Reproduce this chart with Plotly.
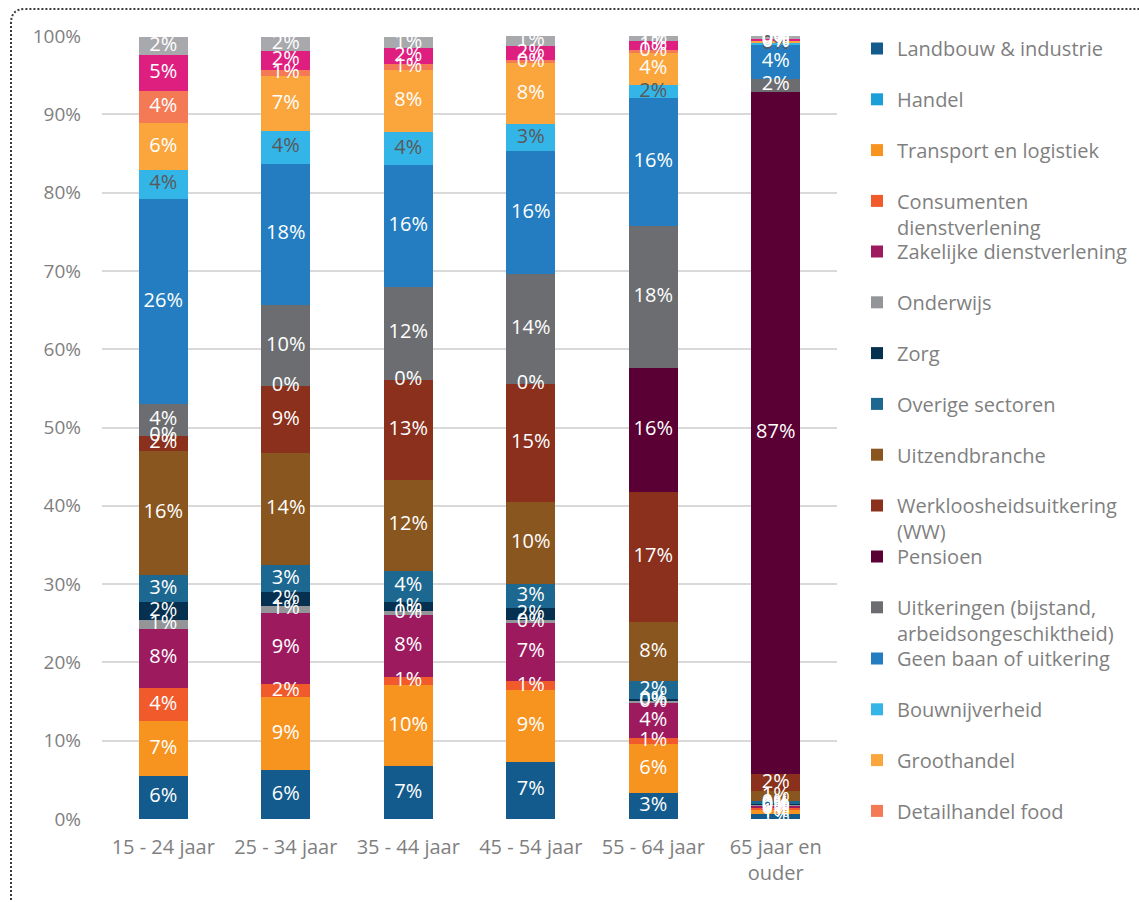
import plotly.graph_objects as go

# Age groups (x categories)
categories = ["15 - 24 jaar", "25 - 34 jaar", "35 - 44 jaar", "45 - 54 jaar",
              "55 - 64 jaar", "65 jaar en<br>ouder"]

# Share per activity / sector, in percent of each age group (stack order bottom -> top)
landbouw_industrie = [5.50, 6.25, 6.76, 7.31, 3.32, 0.60]
handel = [0, 0, 0, 0, 0, 0]
transport_logistiek = [6.98, 9.31, 10.33, 9.15, 6.25, 0.60]
consumenten_dv = [4.25, 1.66, 1.06, 1.15, 0.77, 0.20]
zakelijke_dv = [7.58, 9.15, 7.91, 7.40, 4.43, 0.30]
onderwijs = [1.15, 0.89, 0.45, 0.42, 0.33, 0.10]
zorg = [2.24, 1.73, 1.24, 1.55, 0.18, 0.10]
overige_sectoren = [3.44, 3.45, 3.95, 3.06, 2.30, 0.40]
uitzendbranche = [15.87, 14.25, 11.60, 10.42, 7.56, 1.30]
ww = [1.95, 8.55, 12.83, 15.05, 16.60, 2.10]
pensioen = [0, 0, 0, 0, 15.90, 87.15]
uitkeringen = [3.99, 10.46, 11.79, 14.12, 18.10, 1.66]
geen_baan = [26.28, 17.98, 15.60, 15.64, 16.30, 4.46]
bouwnijverheid = [3.66, 4.20, 4.20, 3.44, 1.66, 0.10]
groothandel = [5.96, 6.98, 8.00, 7.78, 4.12, 0.30]
detailhandel_food = [4.12, 0.85, 0.71, 0.47, 0.43, 0.10]
detailhandel_nonfood = [4.63, 2.42, 2.04, 1.70, 1.10, 0.20]
overig = [2.30, 1.73, 1.40, 1.28, 0.64, 0.30]

y_ticks = [0, 10, 20, 30, 40, 50, 60, 70, 80, 90, 100]
y_tick_labels = [f"{t}%" for t in y_ticks]

WHITE = "#ffffff"
DARK_LABEL = "#595959"

# name, values, colour, label colour (None = no labels), legend id (None = hidden)
series = [
    ("Landbouw & industrie", landbouw_industrie, "#135b8d", WHITE, "legend"),
    ("Handel", handel, "#1b9fd9", None, "legend"),
    ("Transport en logistiek", transport_logistiek, "#f7931f", WHITE, "legend"),
    ("Consumenten<br>dienstverlening", consumenten_dv, "#f15a2b", WHITE, "legend"),
    ("Zakelijke dienstverlening", zakelijke_dv, "#9e1a5f", WHITE, "legend2"),
    ("Onderwijs", onderwijs, "#939598", WHITE, "legend2"),
    ("Zorg", zorg, "#06304f", WHITE, "legend2"),
    ("Overige sectoren", overige_sectoren, "#1c6890", WHITE, "legend2"),
    ("Uitzendbranche", uitzendbranche, "#8a561f", WHITE, "legend2"),
    ("Werkloosheidsuitkering<br>(WW)", ww, "#8a301d", WHITE, "legend2"),
    ("Pensioen", pensioen, "#5b0034", WHITE, "legend3"),
    ("Uitkeringen (bijstand,<br>arbeidsongeschiktheid)", uitkeringen, "#6c6d71", WHITE, "legend3"),
    ("Geen baan of uitkering", geen_baan, "#237dc0", WHITE, "legend4"),
    ("Bouwnijverheid", bouwnijverheid, "#34b5e8", DARK_LABEL, "legend4"),
    ("Groothandel", groothandel, "#fba53d", WHITE, "legend4"),
    ("Detailhandel food", detailhandel_food, "#f47955", WHITE, "legend4"),
    ("Detailhandel non-food", detailhandel_nonfood, "#df1f7f", WHITE, None),
    ("Overig", overig, "#a7a9ac", WHITE, None),
]

FONT = "Open Sans, Arial, sans-serif"
GRAY_TEXT = "#7f7f7f"

# Plot-area geometry in pixels
W, H = 1139, 902
M_L, M_R, M_T, M_B = 102, 302, 36, 83
PW = W - M_L - M_R
PH = H - M_T - M_B


def px_x(px):
    return (px - M_L) / PW


def px_y(py):
    return (H - M_B - py) / PH


fig = go.Figure()

for name, vals, color, _, leg in series:
    fig.add_trace(go.Bar(
        x=categories, y=vals, name=name,
        marker=dict(color=color, line=dict(width=0)),
        legend=leg if leg else "legend",
        legendgroup=name,
        showlegend=leg is not None,
        hovertemplate=name.replace("<br>", " ") + ": %{y:.1f}%<extra></extra>",
    ))

# Data labels, centred on each segment (Excel-style, full size even for thin segments)
base = [0.0] * len(categories)
for name, vals, color, label_color, leg in series:
    mids = [b + v / 2 for b, v in zip(base, vals)]
    base = [b + v for b, v in zip(base, vals)]
    if label_color is None:
        continue
    fig.add_trace(go.Scatter(
        x=categories, y=mids, mode="text",
        text=[f"{int(v + 0.5)}%" for v in vals],
        textposition="middle center",
        textfont=dict(family=FONT, size=20, color=label_color),
        showlegend=False, hoverinfo="skip", cliponaxis=False,
    ))

legend_common = dict(
    font=dict(family=FONT, size=20, color=GRAY_TEXT),
    bgcolor="rgba(0,0,0,0)", borderwidth=0,
    traceorder="grouped", tracegroupgap=21.8, valign="top",
    xanchor="left", yanchor="top", x=px_x(857),
)
fig.update_layout(
    legend=dict(**legend_common, y=px_y(29)),
    legend2=dict(**legend_common, y=px_y(232)),
    legend3=dict(**legend_common, y=px_y(537)),
    legend4=dict(**legend_common, y=px_y(639)),
)

fig.update_layout(
    width=W, height=H,
    margin=dict(l=M_L, r=M_R, t=M_T, b=M_B, autoexpand=False),
    barmode="stack", bargap=0.6,
    paper_bgcolor="white", plot_bgcolor="white",
    font=dict(family=FONT, size=20, color=GRAY_TEXT),
    xaxis=dict(
        type="category", showgrid=False, zeroline=False, showline=False,
        ticks="", ticklabelstandoff=14,
        tickfont=dict(family=FONT, size=20, color=GRAY_TEXT),
    ),
    yaxis=dict(
        range=[0, 100], tickmode="array", tickvals=y_ticks, ticktext=y_tick_labels,
        showgrid=True, gridcolor="#d9d9d9", gridwidth=1.5,
        zeroline=False, showline=False, ticks="",
        ticklabelstandoff=20,
        tickfont=dict(family=FONT, size=19, color=GRAY_TEXT),
    ),
    hovermode="closest",
)

# Dotted frame with rounded top-left corner
xl, xr = px_x(11), px_x(W + 10)
yt, yb = px_y(9), px_y(H + 10)
rx, ry = 14 / PW, 14 / PH
fig.add_shape(
    type="path", xref="paper", yref="paper",
    path=f"M {xl},{yb} L {xl},{yt - ry} Q {xl},{yt} {xl + rx},{yt} L {xr},{yt}",
    line=dict(color="#3a3a3a", width=2, dash="2px,2px"),
    layer="above",
)

fig.write_html("out.html")
